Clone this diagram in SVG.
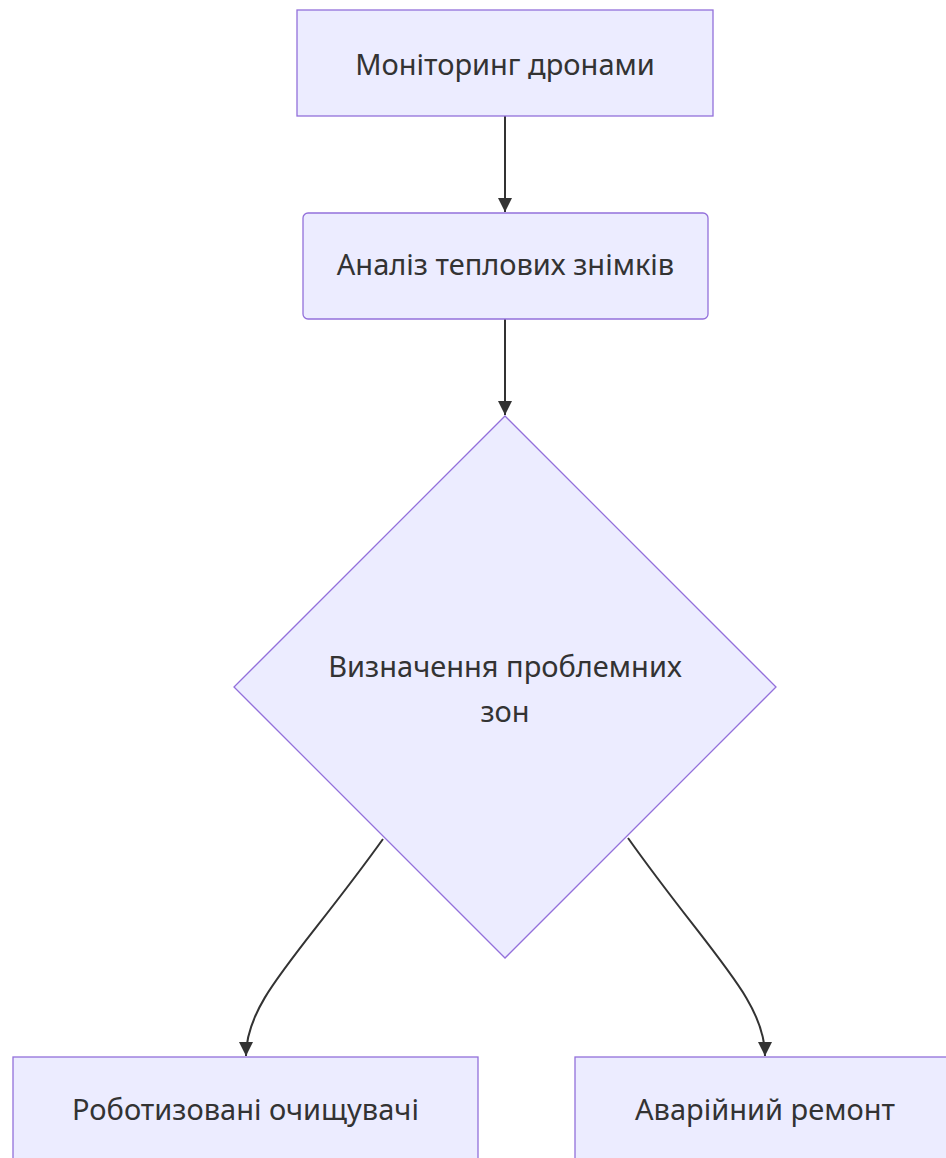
<svg xmlns="http://www.w3.org/2000/svg" width="946" height="1158" viewBox="0 0 946 1158">
  <style>
    .node { fill: #ECECFF; stroke: #9370DB; stroke-width: 1.3; }
    .label { font-family: "Noto Sans", "DejaVu Sans", sans-serif; font-size: 29px; fill: #333333; text-anchor: middle; }
    .edge { fill: none; stroke: #333333; stroke-width: 2; }
  </style>
  <defs>
    <marker id="arrow" viewBox="0 0 10 10" refX="10" refY="5" markerUnits="userSpaceOnUse" markerWidth="14" markerHeight="14" orient="auto">
      <path d="M0,0 L10,5 L0,10 z" fill="#333333"/>
    </marker>
  </defs>
  <rect width="946" height="1158" fill="#FFFFFF"/>
  <g id="connectors">
    <path class="edge" d="M505,116 L505,212" marker-end="url(#arrow)"/>
    <path class="edge" d="M505,319 L505,415" marker-end="url(#arrow)"/>
    <path class="edge" d="M383,839 C300,955 246,1000 246,1056" marker-end="url(#arrow)"/>
    <path class="edge" d="M628,838 C711,955 765,1000 765,1056" marker-end="url(#arrow)"/>
  </g>
  <g id="node-monitoring">
    <rect class="node" x="297" y="10" width="416" height="106"/>
    <text class="label" x="505" y="75">Моніторинг дронами</text>
  </g>
  <g id="node-analysis">
    <rect class="node" x="303" y="213" width="405" height="106" rx="5" ry="5"/>
    <text class="label" x="505.5" y="275">Аналіз теплових знімків</text>
  </g>
  <g id="node-decision">
    <polygon class="node" points="505,416 776,687 505,958 234,687"/>
    <text class="label" x="505" y="677">Визначення проблемних</text>
    <text class="label" x="505" y="722">зон</text>
  </g>
  <g id="node-robots">
    <rect class="node" x="13" y="1057" width="465" height="106"/>
    <text class="label" x="245.5" y="1120">Роботизовані очищувачі</text>
  </g>
  <g id="node-repair">
    <rect class="node" x="575" y="1057" width="380" height="106"/>
    <text class="label" x="765" y="1120">Аварійний ремонт</text>
  </g>
</svg>
